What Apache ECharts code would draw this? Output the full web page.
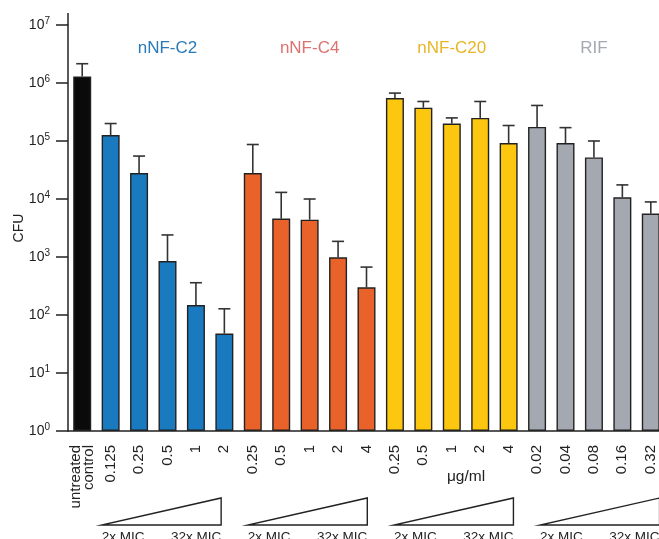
<!DOCTYPE html>
<html>
<head>
<meta charset="utf-8">
<script src="https://cdn.jsdelivr.net/npm/echarts@6/dist/echarts.min.js"></script>
<style>
html,body{margin:0;padding:0;background:#fff;}
#chart{width:659px;height:539px;}
</style>
</head>
<body>
<div id="chart"></div>
<script>
// x labels (doses in ug/ml)
var doseLabels = ['untreated\ncontrol',
    '0.125','0.25','0.5','1','2',
    '0.25','0.5','1','2','4',
    '0.25','0.5','1','2','4',
    '0.02','0.04','0.08','0.16','0.32'];

var groupNames = ['nNF-C2','nNF-C4','nNF-C20','RIF'];

// mean CFU
var controlCfu = [1.3e6];
var c2Cfu  = [1.27e5, 2.8e4, 850, 148, 48];
var c4Cfu  = [2.8e4, 4.6e3, 4.4e3, 990, 300];
var c20Cfu = [5.5e5, 3.75e5, 2.0e5, 2.5e5, 9.2e4];
var rifCfu = [1.75e5, 9.2e4, 5.2e4, 1.07e4, 5.6e3];

// top of error bar
var controlErr = [2.15e6];
var c2Err  = [2.0e5, 5.5e4, 2.4e3, 360, 128];
var c4Err  = [8.7e4, 1.3e4, 1.0e4, 1.86e3, 670];
var c20Err = [6.7e5, 4.8e5, 2.5e5, 4.8e5, 1.85e5];
var rifErr = [4.1e5, 1.7e5, 1.0e5, 1.75e4, 8.9e3];

var barColors = ['#0a0a0a','#1a7abf','#e9622a','#fdc70f','#a3a8b1'];
var labelColors = ['#2a7ab8','#de7272','#e8b526','#a5a9b1'];

var myChart = echarts.init(document.getElementById('chart'));

var allMeans = [controlCfu, c2Cfu, c4Cfu, c20Cfu, rifCfu];
var allErrs = [controlErr, c2Err, c4Err, c20Err, rifErr];
var barData = [], errData = [];
var idx = 0;
for (var g = 0; g < allMeans.length; g++) {
    for (var k = 0; k < allMeans[g].length; k++) {
        barData.push({value: allMeans[g][k], itemStyle: {color: barColors[g]}});
        errData.push([idx, allMeans[g][k], allErrs[g][k]]);
        idx++;
    }
}

var font = '"Liberation Sans", Arial, sans-serif';

option = {
    animation: false,
    grid: {left: 68, top: 25, width: 597, height: 406, outerBoundsMode: 'none', containLabel: false},
    xAxis: {
        type: 'category',
        data: doseLabels,
        axisLine: {lineStyle: {color: '#222', width: 1.5}},
        axisTick: {alignWithLabel: true, length: 10, interval: 0, lineStyle: {color: '#222', width: 1.5}},
        axisLabel: {interval: 0, rotate: 90, margin: 14, color: '#222', fontSize: 15, fontFamily: font, lineHeight: 13}
    },
    yAxis: {
        type: 'log',
        logBase: 10,
        min: 1,
        max: 1e7,
        name: 'CFU',
        nameLocation: 'middle',
        nameGap: 42,
        nameMoveOverlap: false,
        nameTextStyle: {color: '#222', fontSize: 14, fontFamily: font},
        splitLine: {show: false},
        axisLine: {show: true, lineStyle: {color: '#222', width: 1.5}},
        axisTick: {show: true, length: 12, lineStyle: {color: '#222', width: 1.5}},
        axisLabel: {
            margin: 18,
            color: '#222',
            fontFamily: font,
            fontSize: 14,
            formatter: function (v) {
                return '10{s|' + Math.round(Math.log10(v)) + '}';
            },
            rich: {s: {fontSize: 10, verticalAlign: 'top', padding: [0, 0, 8, 0], fontFamily: font, color: '#222'}}
        }
    },
    series: [{
        type: 'bar',
        data: barData,
        barWidth: 18,
        itemStyle: {borderColor: '#222', borderWidth: 1.4}
    }, {
        type: 'custom',
        data: errData,
        encode: {x: 0, y: [1, 2]},
        z: 1,
        renderItem: function (params, api) {
            var lo = api.coord([api.value(0), api.value(1)]);
            var hi = api.coord([api.value(0), api.value(2)]);
            var st = {stroke: '#333', lineWidth: 1.6};
            return {type: 'group', children: [
                {type: 'line', shape: {x1: lo[0], y1: lo[1], x2: hi[0], y2: hi[1]}, style: st},
                {type: 'line', shape: {x1: hi[0] - 6, y1: hi[1], x2: hi[0] + 6, y2: hi[1]}, style: st}
            ]};
        }
    }]
};
myChart.setOption(option, true);

// group names, triangles, unit label
function px(i) {
    return myChart.convertToPixel({xAxisIndex: 0}, i);
}
var graphics = [];
var axisTop = myChart.convertToPixel({yAxisIndex: 0}, 1e7);
graphics.push({type: 'line', shape: {x1: 68, y1: 13, x2: 68, y2: axisTop}, style: {stroke: '#222', lineWidth: 1.5}});
for (var n = 0; n < groupNames.length; n++) {
    var first = 1 + n * 5;
    graphics.push({
        type: 'text', x: px(first + 2), y: 48,
        style: {text: groupNames[n], fill: labelColors[n], font: '17px ' + font, textAlign: 'center', textVerticalAlign: 'middle'}
    });
    var left = px(first) - 9 + 4 * n, right = left + 119.5;
    graphics.push({
        type: 'polygon',
        shape: {points: [[left, 525], [right, 525], [right, 498]]},
        style: {fill: 'none', stroke: '#222', lineWidth: 1.4}
    });
    graphics.push({type: 'text', x: left, y: 530,
        style: {text: '2x MIC', fill: '#222', font: '13.5px ' + font, textAlign: 'left', textVerticalAlign: 'top'}});
    graphics.push({type: 'text', x: right, y: 530,
        style: {text: '32x MIC', fill: '#222', font: '13.5px ' + font, textAlign: 'right', textVerticalAlign: 'top'}});
}
graphics.push({type: 'text', x: (px(13) + px(14)) / 2, y: 477,
    style: {text: 'μg/ml', fill: '#222', font: '15.5px ' + font, textAlign: 'center', textVerticalAlign: 'middle'}});
myChart.setOption({graphic: graphics});
</script>
</body>
</html>
